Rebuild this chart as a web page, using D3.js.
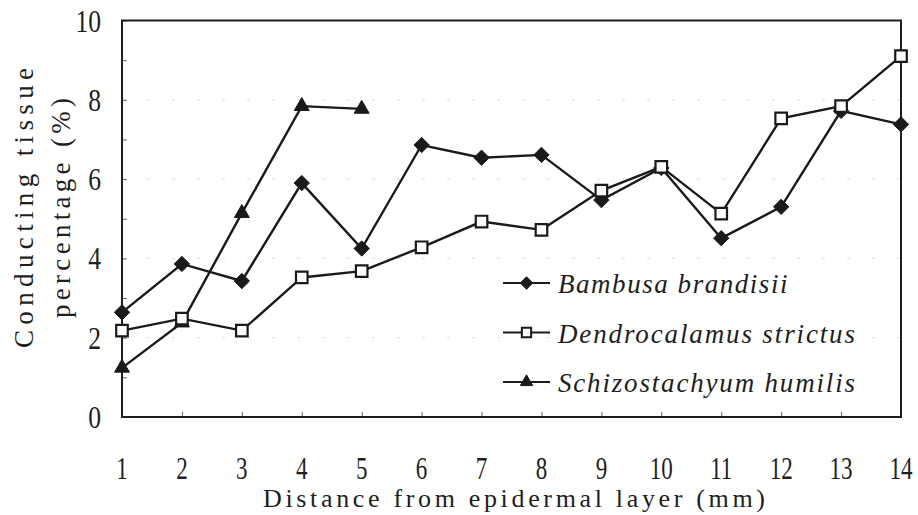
<!DOCTYPE html>
<html>
<head>
<meta charset="utf-8">
<script src="https://cdn.jsdelivr.net/npm/d3@7"></script>
<style>
  body { margin: 0; background: #fff; }
  svg text { fill: #1e1e1e; }
</style>
</head>
<body>
<div id="chart"></div>
<script>
// data
const distances = [1, 2, 3, 4, 5, 6, 7, 8, 9, 10, 11, 12, 13, 14]
const bambusa = [2.64, 3.86, 3.43, 5.9, 4.25, 6.86, 6.54, 6.61, 5.47, 6.28, 4.51, 5.3, 7.72, 7.38]
const dendrocalamus = [2.18, 2.48, 2.18, 3.52, 3.68, 4.28, 4.93, 4.72, 5.71, 6.31, 5.13, 7.53, 7.84, 9.1]
const schizostachyum = [1.24, 2.38, 5.14, 7.84, 7.77]
const yTicks = [0, 2, 4, 6, 8, 10]
const seriesNames = ['Bambusa brandisii', 'Dendrocalamus strictus', 'Schizostachyum humilis']

const width = 918, height = 515
const margin = { left: 122, right: 17, top: 20.5, bottom: 98 }
const serif = '"Liberation Serif", "Times New Roman", serif'

const svg = d3.select('#chart').append('svg')
  .attr('width', width)
  .attr('height', height)

const x = d3.scaleLinear().domain([1, 14]).range([margin.left, width - margin.right])
const y = d3.scaleLinear().domain([0, 10]).range([height - margin.bottom, margin.top])

// very faint dashed gridlines
svg.append('g').selectAll('line')
  .data([2, 4, 6, 8])
  .join('line')
  .attr('x1', x(1)).attr('x2', x(14))
  .attr('y1', d => y(d)).attr('y2', d => y(d))
  .attr('stroke', '#dcdcdc')
  .attr('stroke-width', 1)
  .attr('stroke-dasharray', '3,22')

// inward ticks on the left axis (every unit)
const leftAxis = d3.axisRight(y).tickValues(d3.range(0, 11)).tickSize(5).tickFormat('')
svg.append('g').attr('transform', `translate(${x(1)},0)`).call(leftAxis)
  .call(g => g.select('.domain').remove())
  .selectAll('line').attr('stroke', '#666')

// inward ticks on the bottom axis
const bottomAxis = d3.axisTop(x).tickValues(distances).tickSize(5).tickFormat('')
svg.append('g').attr('transform', `translate(0,${y(0)})`).call(bottomAxis)
  .call(g => g.select('.domain').remove())
  .selectAll('line').attr('stroke', '#666')

// frame
svg.append('rect')
  .attr('x', x(1)).attr('y', y(10))
  .attr('width', x(14) - x(1)).attr('height', y(0) - y(10))
  .attr('fill', 'none').attr('stroke', '#1e1e1e').attr('stroke-width', 2)

// tick labels: tall narrow digits, squeezed horizontally
svg.append('g').selectAll('text')
  .data(yTicks)
  .join('text')
  .attr('transform', d => `translate(101,${y(d) + 11}) scale(0.8,1)`)
  .attr('text-anchor', 'end')
  .style('font-family', serif)
  .style('font-size', '32px')
  .text(d => d)

svg.append('g').selectAll('text')
  .data(distances)
  .join('text')
  .attr('transform', d => `translate(${x(d)},479) scale(0.72,1)`)
  .attr('text-anchor', 'middle')
  .style('font-family', serif)
  .style('font-size', '32px')
  .text(d => d)

// axis titles (serif with wide, typewriter-like spacing)
svg.append('text')
  .attr('x', 514).attr('y', 507)
  .attr('text-anchor', 'middle')
  .style('font-family', serif)
  .style('font-size', '26px')
  .attr('textLength', 502)
  .text('Distance from epidermal layer (mm)')

const ylab = svg.append('g').attr('transform', 'translate(0,208) rotate(-90)')
ylab.append('text')
  .attr('x', 0).attr('y', 33)
  .attr('text-anchor', 'middle')
  .style('font-family', serif)
  .style('font-size', '27px')
  .attr('textLength', 280)
  .text('Conducting tissue')
ylab.append('text')
  .attr('x', 0).attr('y', 70)
  .attr('text-anchor', 'middle')
  .style('font-family', serif)
  .style('font-size', '27px')
  .attr('textLength', 220)
  .text('percentage (%)')

// series
const line = d3.line().x((d, i) => x(distances[i])).y(d => y(d))
const diamond = d3.symbol().type(d3.symbolDiamond2).size(150)
const square = d3.symbol().type(d3.symbolSquare2).size(170)
const triangle = d3.symbol().type(d3.symbolTriangle2).size(160)

function drawSeries(values, sym, fill) {
  svg.append('path').datum(values)
    .attr('d', line)
    .attr('fill', 'none').attr('stroke', '#1a1a1a').attr('stroke-width', 2.4)
  svg.append('g').selectAll('path')
    .data(values)
    .join('path')
    .attr('transform', (d, i) => `translate(${x(distances[i])},${y(d)})`)
    .attr('d', sym)
    .attr('fill', fill)
    .attr('stroke', '#1a1a1a')
    .attr('stroke-width', fill === 'white' ? 2.2 : 1)
}

drawSeries(schizostachyum, triangle, '#1a1a1a')
drawSeries(bambusa, diamond, '#1a1a1a')
drawSeries(dendrocalamus, square, 'white')

// legend
const legendSyms = [[diamond, '#1a1a1a', 100], [square, 'white', 110], [triangle, '#1a1a1a', 110]]
const legend = svg.append('g')
seriesNames.forEach((name, i) => {
  const ly = 283 + i * 49.5
  legend.append('line')
    .attr('x1', 503).attr('x2', 550).attr('y1', ly).attr('y2', ly)
    .attr('stroke', '#1a1a1a').attr('stroke-width', 2)
  legend.append('path')
    .attr('transform', `translate(526.5,${ly})`)
    .attr('d', legendSyms[i][0].size(legendSyms[i][2])())
    .attr('fill', legendSyms[i][1])
    .attr('stroke', '#1a1a1a')
    .attr('stroke-width', i === 1 ? 2 : 1)
  legend.append('text')
    .attr('x', 558).attr('y', ly + 10)
    .style('font-family', serif)
    .style('font-style', 'italic')
    .style('font-size', '27px')
    .attr('textLength', name.length * 13.5)
    .text(name)
})
</script>
</body>
</html>
